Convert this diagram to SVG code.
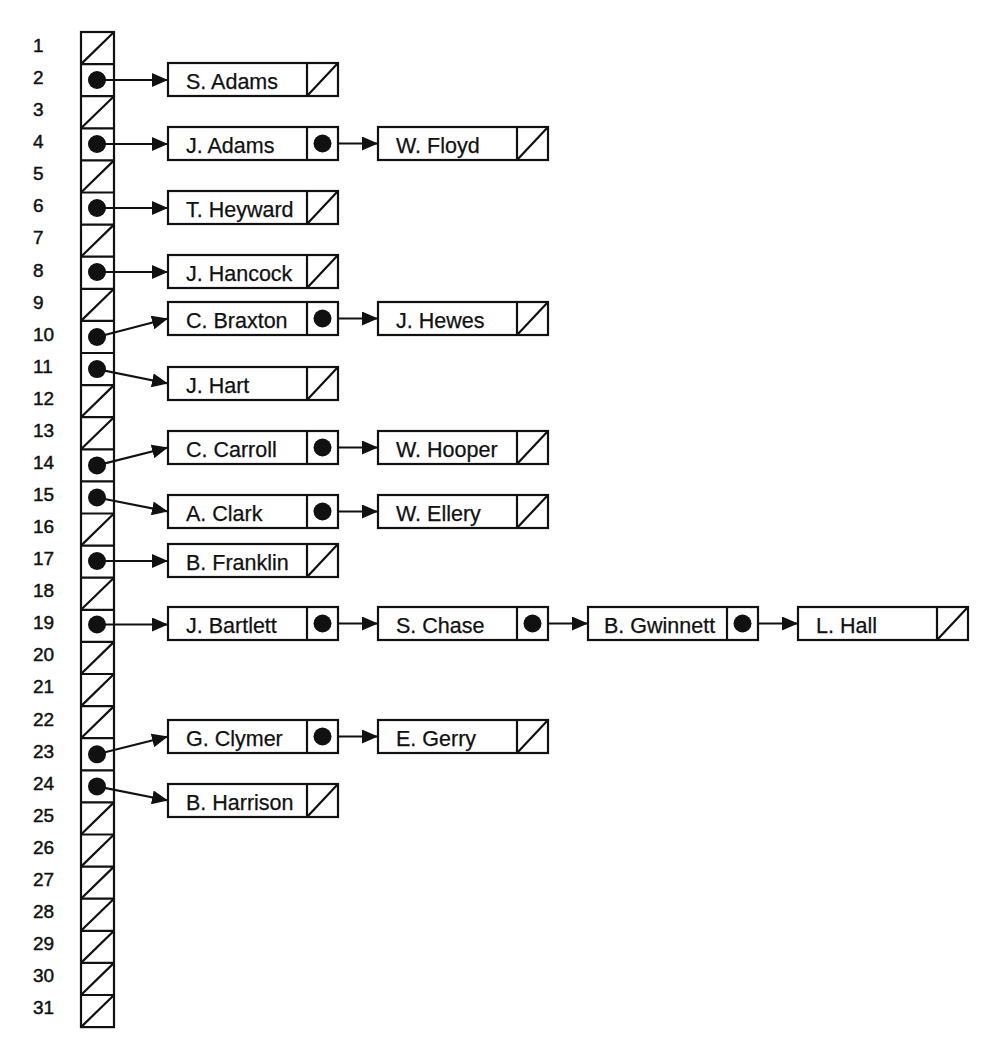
<svg xmlns="http://www.w3.org/2000/svg" width="998" height="1056" viewBox="0 0 998 1056">
<style>
  .bx{fill:#fff;stroke:#111;stroke-width:2.2}
  .ln{fill:none;stroke:#111;stroke-width:2.2}
  .dot{fill:#111}
  .nm{font-family:"Liberation Sans",Arial,Helvetica,sans-serif;font-size:21.5px;fill:#111;stroke:#111;stroke-width:0.25}
  .lb{font-family:"Liberation Sans",Arial,Helvetica,sans-serif;font-size:19px;fill:#111;stroke:#111;stroke-width:0.45}
  .cn{fill:none;stroke:#111;stroke-width:2.2;marker-end:url(#ah)}
</style>
<defs>
  <marker id="ah" markerUnits="userSpaceOnUse" markerWidth="16" markerHeight="14" refX="16" refY="7" orient="auto" viewBox="0 0 16 14">
    <path d="M0,0 L16,7 L0,14 z" fill="#111"/>
  </marker>
</defs>
<rect width="998" height="1056" fill="#fff"/>

<g id="labels">
  <text class="lb" x="33" y="52">1</text>
  <text class="lb" x="33" y="84.1">2</text>
  <text class="lb" x="33" y="116.1">3</text>
  <text class="lb" x="33" y="148.2">4</text>
  <text class="lb" x="33" y="180.3">5</text>
  <text class="lb" x="33" y="212.4">6</text>
  <text class="lb" x="33" y="244.4">7</text>
  <text class="lb" x="33" y="276.5">8</text>
  <text class="lb" x="33" y="308.6">9</text>
  <text class="lb" x="33" y="340.6">10</text>
  <text class="lb" x="33" y="372.7">11</text>
  <text class="lb" x="33" y="404.8">12</text>
  <text class="lb" x="33" y="436.8">13</text>
  <text class="lb" x="33" y="468.9">14</text>
  <text class="lb" x="33" y="501">15</text>
  <text class="lb" x="33" y="533">16</text>
  <text class="lb" x="33" y="565.1">17</text>
  <text class="lb" x="33" y="597.2">18</text>
  <text class="lb" x="33" y="629.3">19</text>
  <text class="lb" x="33" y="661.3">20</text>
  <text class="lb" x="33" y="693.4">21</text>
  <text class="lb" x="33" y="725.5">22</text>
  <text class="lb" x="33" y="757.5">23</text>
  <text class="lb" x="33" y="789.6">24</text>
  <text class="lb" x="33" y="821.7">25</text>
  <text class="lb" x="33" y="853.8">26</text>
  <text class="lb" x="33" y="885.8">27</text>
  <text class="lb" x="33" y="917.9">28</text>
  <text class="lb" x="33" y="950">29</text>
  <text class="lb" x="33" y="982">30</text>
  <text class="lb" x="33" y="1014.1">31</text>
</g>

<g id="array">
  <rect class="bx" x="81" y="32" width="33" height="995.1"/>
  <path class="ln" d="M81 64.1H114M81 96.2H114M81 128.3H114M81 160.4H114M81 192.5H114M81 224.6H114M81 256.7H114M81 288.8H114M81 320.9H114M81 353H114M81 385.1H114M81 417.2H114M81 449.3H114M81 481.4H114M81 513.5H114M81 545.6H114M81 577.7H114M81 609.8H114M81 641.9H114M81 674H114M81 706.1H114M81 738.2H114M81 770.3H114M81 802.4H114M81 834.5H114M81 866.6H114M81 898.7H114M81 930.8H114M81 962.9H114M81 995H114"/>
  <path class="ln" d="M81 64.1L114 32M81 128.3L114 96.2M81 192.5L114 160.4M81 256.7L114 224.6M81 320.9L114 288.8M81 417.2L114 385.1M81 449.3L114 417.2M81 545.6L114 513.5M81 609.8L114 577.7M81 674L114 641.9M81 706.1L114 674M81 738.2L114 706.1M81 834.5L114 802.4M81 866.6L114 834.5M81 898.7L114 866.6M81 930.8L114 898.7M81 962.9L114 930.8M81 995L114 962.9M81 1027.1L114 995"/>
</g>

<g id="connectors">
  <line class="cn" x1="97" y1="80" x2="168" y2="80"/>
  <line class="cn" x1="97" y1="144" x2="168" y2="144"/>
  <line class="cn" x1="97" y1="208" x2="168" y2="208"/>
  <line class="cn" x1="97" y1="272" x2="168" y2="272"/>
  <line class="cn" x1="97" y1="337" x2="168" y2="318.5"/>
  <line class="cn" x1="97" y1="369.1" x2="168" y2="383.5"/>
  <line class="cn" x1="97" y1="465.4" x2="168" y2="447.5"/>
  <line class="cn" x1="97" y1="497.5" x2="168" y2="511.5"/>
  <line class="cn" x1="97" y1="561" x2="168" y2="561"/>
  <line class="cn" x1="97" y1="624.5" x2="168" y2="624.5"/>
  <line class="cn" x1="97" y1="754.3" x2="168" y2="736.5"/>
  <line class="cn" x1="97" y1="786.4" x2="168" y2="800.5"/>
  <line class="cn" x1="322.5" y1="143.5" x2="378" y2="143.5"/>
  <line class="cn" x1="322.5" y1="318.5" x2="378" y2="318.5"/>
  <line class="cn" x1="322.5" y1="447.5" x2="378" y2="447.5"/>
  <line class="cn" x1="322.5" y1="511.5" x2="378" y2="511.5"/>
  <line class="cn" x1="322.5" y1="623.5" x2="378" y2="623.5"/>
  <line class="cn" x1="532.5" y1="623.5" x2="588" y2="623.5"/>
  <line class="cn" x1="742.5" y1="623.5" x2="798" y2="623.5"/>
  <line class="cn" x1="322.5" y1="736.5" x2="378" y2="736.5"/>
</g>

<g id="array-dots">
  <circle class="dot" cx="97" cy="80" r="9"/>
  <circle class="dot" cx="97" cy="144" r="9"/>
  <circle class="dot" cx="97" cy="208" r="9"/>
  <circle class="dot" cx="97" cy="272" r="9"/>
  <circle class="dot" cx="97" cy="337" r="9"/>
  <circle class="dot" cx="97" cy="369.1" r="9"/>
  <circle class="dot" cx="97" cy="465.4" r="9"/>
  <circle class="dot" cx="97" cy="497.5" r="9"/>
  <circle class="dot" cx="97" cy="561" r="9"/>
  <circle class="dot" cx="97" cy="624.5" r="9"/>
  <circle class="dot" cx="97" cy="754.3" r="9"/>
  <circle class="dot" cx="97" cy="786.4" r="9"/>
</g>

<g id="n-sadams"><rect class="bx" x="168" y="63" width="170" height="33"/><path class="ln" d="M307 63V96M307 96L338 63"/><text class="nm" x="186" y="88.5">S. Adams</text></g>
<g id="n-jadams"><rect class="bx" x="168" y="127" width="170" height="33"/><path class="ln" d="M307 127V160"/><circle class="dot" cx="322.5" cy="143.5" r="9"/><text class="nm" x="186" y="152.5">J. Adams</text></g>
<g id="n-wfloyd"><rect class="bx" x="378" y="127" width="170" height="33"/><path class="ln" d="M517 127V160M517 160L548 127"/><text class="nm" x="396" y="152.5">W. Floyd</text></g>
<g id="n-theyward"><rect class="bx" x="168" y="191" width="170" height="33"/><path class="ln" d="M307 191V224M307 224L338 191"/><text class="nm" x="186" y="216.5">T. Heyward</text></g>
<g id="n-jhancock"><rect class="bx" x="168" y="255" width="170" height="33"/><path class="ln" d="M307 255V288M307 288L338 255"/><text class="nm" x="186" y="280.5">J. Hancock</text></g>
<g id="n-cbraxton"><rect class="bx" x="168" y="302" width="170" height="33"/><path class="ln" d="M307 302V335"/><circle class="dot" cx="322.5" cy="318.5" r="9"/><text class="nm" x="186" y="327.5">C. Braxton</text></g>
<g id="n-jhewes"><rect class="bx" x="378" y="302" width="170" height="33"/><path class="ln" d="M517 302V335M517 335L548 302"/><text class="nm" x="396" y="327.5">J. Hewes</text></g>
<g id="n-jhart"><rect class="bx" x="168" y="367" width="170" height="33"/><path class="ln" d="M307 367V400M307 400L338 367"/><text class="nm" x="186" y="392.5">J. Hart</text></g>
<g id="n-ccarroll"><rect class="bx" x="168" y="431" width="170" height="33"/><path class="ln" d="M307 431V464"/><circle class="dot" cx="322.5" cy="447.5" r="9"/><text class="nm" x="186" y="456.5">C. Carroll</text></g>
<g id="n-whooper"><rect class="bx" x="378" y="431" width="170" height="33"/><path class="ln" d="M517 431V464M517 464L548 431"/><text class="nm" x="396" y="456.5">W. Hooper</text></g>
<g id="n-aclark"><rect class="bx" x="168" y="495" width="170" height="33"/><path class="ln" d="M307 495V528"/><circle class="dot" cx="322.5" cy="511.5" r="9"/><text class="nm" x="186" y="520.5">A. Clark</text></g>
<g id="n-wellery"><rect class="bx" x="378" y="495" width="170" height="33"/><path class="ln" d="M517 495V528M517 528L548 495"/><text class="nm" x="396" y="520.5">W. Ellery</text></g>
<g id="n-bfranklin"><rect class="bx" x="168" y="544" width="170" height="33"/><path class="ln" d="M307 544V577M307 577L338 544"/><text class="nm" x="186" y="569.5">B. Franklin</text></g>
<g id="n-jbartlett"><rect class="bx" x="168" y="607" width="170" height="33"/><path class="ln" d="M307 607V640"/><circle class="dot" cx="322.5" cy="623.5" r="9"/><text class="nm" x="186" y="632.5">J. Bartlett</text></g>
<g id="n-schase"><rect class="bx" x="378" y="607" width="170" height="33"/><path class="ln" d="M517 607V640"/><circle class="dot" cx="532.5" cy="623.5" r="9"/><text class="nm" x="396" y="632.5">S. Chase</text></g>
<g id="n-bgwinnett"><rect class="bx" x="588" y="607" width="170" height="33"/><path class="ln" d="M727 607V640"/><circle class="dot" cx="742.5" cy="623.5" r="9"/><text class="nm" x="604" y="632.5">B. Gwinnett</text></g>
<g id="n-lhall"><rect class="bx" x="798" y="607" width="170" height="33"/><path class="ln" d="M937 607V640M937 640L968 607"/><text class="nm" x="816" y="632.5">L. Hall</text></g>
<g id="n-gclymer"><rect class="bx" x="168" y="720" width="170" height="33"/><path class="ln" d="M307 720V753"/><circle class="dot" cx="322.5" cy="736.5" r="9"/><text class="nm" x="186" y="745.5">G. Clymer</text></g>
<g id="n-egerry"><rect class="bx" x="378" y="720" width="170" height="33"/><path class="ln" d="M517 720V753M517 753L548 720"/><text class="nm" x="396" y="745.5">E. Gerry</text></g>
<g id="n-bharrison"><rect class="bx" x="168" y="784" width="170" height="33"/><path class="ln" d="M307 784V817M307 817L338 784"/><text class="nm" x="186" y="809.5">B. Harrison</text></g>
</svg>
